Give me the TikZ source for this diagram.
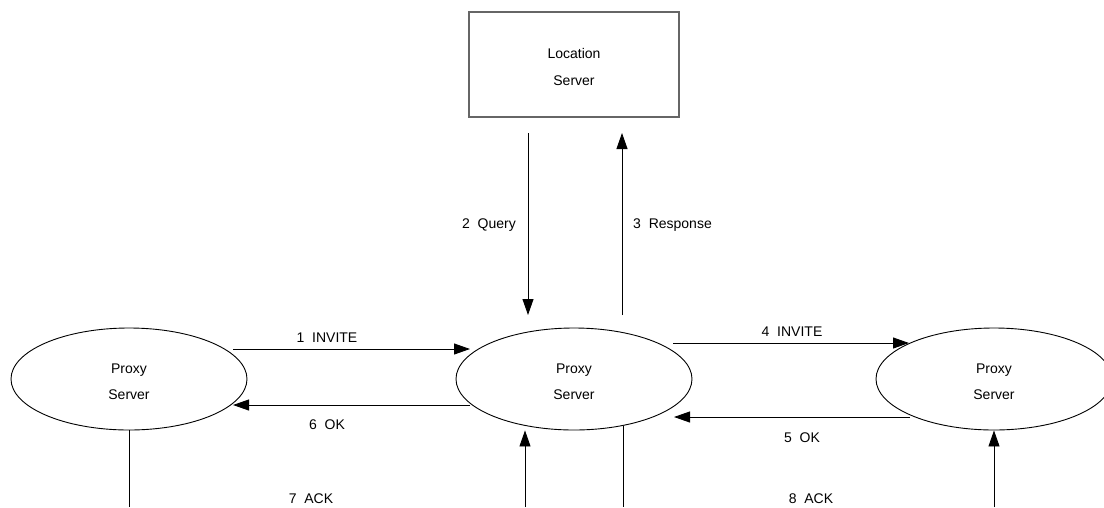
\documentclass[tikz,border=0pt]{standalone}
\usepackage{fontspec}
\setmainfont{Liberation Sans}
\usetikzlibrary{arrows.meta,shapes.geometric}
\begin{document}
\begin{tikzpicture}[x=1pt,y=-1pt,
  lbl/.style={font=\fontsize{14}{16}\selectfont, inner sep=0pt, text height=10pt, text depth=0pt},
  proxy/.style={ellipse, draw=black, line width=0.9pt, minimum width=236pt, minimum height=102pt,
    inner sep=0pt, align=center, font=\fontsize{14}{26}\selectfont},
  server/.style={rectangle, draw=black!60, line width=1.3pt, minimum width=210pt, minimum height=105pt,
    inner sep=0pt, align=center, font=\fontsize{14}{27}\selectfont},
  arr/.style={line width=0.9pt, -{Triangle[length=16pt,width=11pt]}},
  ln/.style={line width=0.9pt}]
\useasboundingbox (0,0) rectangle (1104,507);
\clip (0,0) rectangle (1104,507);

% servers (the zero-width rule lowers the two-line text a little)
\newcommand{\lowertext}{\rule{0pt}{15pt}}
\node[server] (LS) at (574,64.5) {\lowertext Location\\Server};
\node[proxy] (L) at (129,379) {\lowertext Proxy\\Server};
\node[proxy] (M) at (574,379) {\lowertext Proxy\\Server};
\node[proxy] (R) at (994,379) {\lowertext Proxy\\Server};

% query / response between the central proxy and the location server
\coordinate (q1) at (528,133);
\coordinate (q2) at (528,315);
\coordinate (r1) at (622,315);
\coordinate (r2) at (622,133);
\draw[arr] (q1) -- (q2);
\draw[arr] (r1) -- (r2);
\node[lbl, anchor=east] (tq) at (516,223) {2~~Query};
\node[lbl, anchor=west] (tr) at (633,223) {3~~Response};

% INVITE / OK exchanges
\coordinate (a1) at (233,349);
\coordinate (a2) at (470,349);
\coordinate (b1) at (470,405);
\coordinate (b2) at (233,405);
\coordinate (c1) at (673,343);
\coordinate (c2) at (909,343);
\coordinate (d1) at (910,417);
\coordinate (d2) at (674,417);
\draw[arr] (a1) -- (a2);
\draw[arr] (b1) -- (b2);
\draw[arr] (c1) -- (c2);
\draw[arr] (d1) -- (d2);
\node[lbl] (t1) at (327,337) {1~~INVITE};
\node[lbl] (t6) at (327,424) {6~~OK};
\node[lbl] (t4) at (792,331) {4~~INVITE};
\node[lbl] (t5) at (802,437) {5~~OK};

% ACK legs running off the lower edge
\coordinate (e1) at (129,507);
\coordinate (e2) at (525,507);
\coordinate (e3) at (623,507);
\coordinate (e4) at (994,507);
\draw[ln] (L.south) -- (e1);
\draw[arr] (e2) -- (e2 |- M.south);
\draw[ln] ([yshift=4pt]e3 |- M.south) -- (e3);
\draw[arr] (e4) -- (R.south);
\node[lbl] (t7) at (311,498) {7~~ACK};
\node[lbl] (t8) at (811,498) {8~~ACK};
\end{tikzpicture}
\end{document}
